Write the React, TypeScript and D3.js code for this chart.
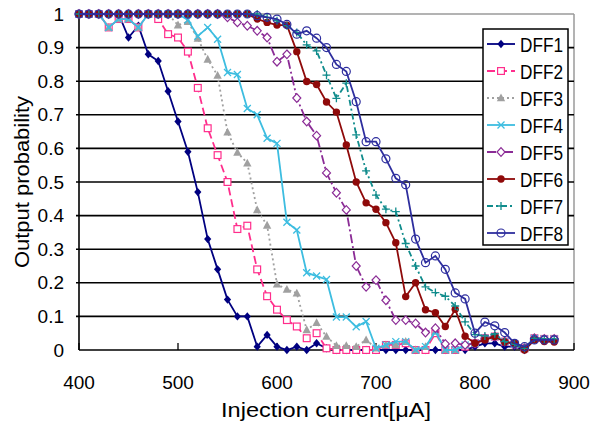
import React from 'react';
import * as d3 from 'd3';

const currents = [400,410,420,430,440,450,460,470,480,490,500,510,520,530,540,550,560,570,580,590,600,610,620,630,640,650,660,670,680,690,700,710,720,730,740,750,760,770,780,790,800,810,820,830,840,850,860,870,880];

const dff1 = [1,1,1,1,1,0.93,0.965,0.88,0.86,0.77,0.68,0.59,0.47,0.33,0.24,0.15,0.1,0.1,0.01,0.045,0.01,0,0.01,0,0.02,0.005,0,0,0,0,0,0,0,0,0,0,0,0,0,0,0.01,0.02,0.02,0.01,0.01,0,0.03,0.03,0.03];
const dff2 = [1,1,1,0.96,0.985,0.985,0.96,1,0.985,0.94,0.93,0.888,0.78,0.66,0.58,0.5,0.36,0.37,0.24,0.16,0.12,0.089,0.07,0.035,0.05,0.005,0,0,0,0,0,0.015,0.015,0.02,0,0,0.05,0,0,0.01,0.02,0.035,0.04,0.025,0.017,0.005,0.035,0.033,0.033];
const dff3 = [1,1,1,0.96,0.985,0.985,0.96,1,1,1,0.967,0.977,0.927,0.865,0.817,0.648,0.588,0.556,0.417,0.371,0.196,0.18,0.169,0.06,0.081,0.04,0.013,0.013,0.01,0.03,0.005,0.015,0.015,0.025,0,0.01,0.055,0,0,0.015,0.02,0.035,0.04,0.025,0.017,0.005,0.035,0.033,0.033];
const dff4 = [1,1,1,0.96,0.985,0.985,0.96,1,1,1,1,0.982,0.934,0.96,0.925,0.826,0.82,0.719,0.7,0.63,0.615,0.38,0.357,0.23,0.22,0.21,0.098,0.098,0.069,0.085,0.005,0.015,0.025,0.025,0,0.01,0.055,0,0,0.015,0.02,0.035,0.04,0.025,0.017,0.005,0.035,0.033,0.033];
const dff5 = [1,1,1,1,1,1,1,1,1,1,1,1,1,1,1,0.99,0.975,0.965,0.95,0.93,0.858,0.88,0.75,0.68,0.638,0.527,0.468,0.417,0.25,0.188,0.208,0.148,0.089,0.089,0.079,0.052,0.065,0.018,0.02,0.015,0.02,0.035,0.04,0.025,0.017,0.005,0.035,0.033,0.033];
const dff6 = [1,1,1,1,1,1,1,1,1,1,1,1,1,1,1,1,1,1,0.985,0.975,0.967,0.967,0.888,0.799,0.79,0.738,0.708,0.61,0.5,0.438,0.419,0.379,0.319,0.159,0.2,0.12,0.111,0.07,0.121,0.041,0.02,0.03,0.04,0.024,0.02,0,0.03,0.025,0.024];
const dff7 = [1,1,1,1,1,1,1,1,1,1,1,1,1,1,1,1,1,1,1,0.99,0.98,0.965,0.945,0.908,0.89,0.818,0.749,0.794,0.64,0.533,0.461,0.419,0.412,0.317,0.25,0.188,0.171,0.16,0.131,0.084,0.046,0.042,0.048,0.025,0.017,0.005,0.035,0.033,0.033];
const dff8 = [1,1,1,1,1,1,1,1,1,1,1,1,1,1,1,1,1,1,0.995,0.99,0.985,0.969,0.94,0.95,0.928,0.9,0.85,0.829,0.739,0.62,0.62,0.569,0.511,0.492,0.33,0.26,0.28,0.24,0.17,0.152,0.05,0.083,0.072,0.052,0.02,0.01,0.03,0.03,0.03];

const seriesNames = ['DFF1','DFF2','DFF3','DFF4','DFF5','DFF6','DFF7','DFF8'];
const seriesValues = [dff1, dff2, dff3, dff4, dff5, dff6, dff7, dff8];
const xTicks = [400,500,600,700,800,900];
const yTicks = [0,0.1,0.2,0.3,0.4,0.5,0.6,0.7,0.8,0.9,1];
const yTickLabels = ['0','0.1','0.2','0.3','0.4','0.5','0.6','0.7','0.8','0.9','1'];

const styles = [
  { color: '#000080', dash: 'none', marker: 'diamond' },
  { color: '#FF2E8C', dash: '8,4', marker: 'osquare' },
  { color: '#A0A0A0', dash: '2,3', marker: 'triangle' },
  { color: '#3DBDE0', dash: 'none', marker: 'x' },
  { color: '#8B2C96', dash: '9,3,2,3', marker: 'odiamond' },
  { color: '#8F0A0A', dash: 'none', marker: 'circle' },
  { color: '#108C8C', dash: '6,3,2,3', marker: 'plus' },
  { color: '#2E2E9E', dash: 'none', marker: 'ocircle' },
];

const x = d3.scaleLinear().domain([400, 900]).range([79, 574]);
const y = d3.scaleLinear().domain([0, 1]).range([350, 14]);

function Marker({ type, color, cx, cy }: { type: string; color: string; cx: number; cy: number }) {
  switch (type) {
    case 'diamond':
      return <path d={`M${cx},${cy - 4.2}L${cx + 3.6},${cy}L${cx},${cy + 4.2}L${cx - 3.6},${cy}Z`} fill={color} />;
    case 'osquare':
      return <rect x={cx - 3.4} y={cy - 3.4} width={6.8} height={6.8} fill="white" stroke={color} strokeWidth={1.2} />;
    case 'triangle':
      return <path d={`M${cx},${cy - 4.5}L${cx + 4.2},${cy + 3.3}L${cx - 4.2},${cy + 3.3}Z`} fill={color} />;
    case 'x':
      return <path d={`M${cx - 3.5},${cy - 3.5}L${cx + 3.5},${cy + 3.5}M${cx - 3.5},${cy + 3.5}L${cx + 3.5},${cy - 3.5}`} stroke={color} strokeWidth={1.3} />;
    case 'odiamond':
      return <path d={`M${cx},${cy - 4.3}L${cx + 4},${cy}L${cx},${cy + 4.3}L${cx - 4},${cy}Z`} fill="white" stroke={color} strokeWidth={1.2} />;
    case 'circle':
      return <circle cx={cx} cy={cy} r={3.7} fill={color} />;
    case 'plus':
      return <path d={`M${cx - 4},${cy}L${cx + 4},${cy}M${cx},${cy - 4}L${cx},${cy + 4}`} stroke={color} strokeWidth={1.3} />;
    case 'ocircle':
      return <circle cx={cx} cy={cy} r={4} fill="none" stroke={color} strokeWidth={1.2} />;
    default:
      return null;
  }
}

export default function App() {
  const line = d3.line<number>().x((_, i) => x(currents[i])).y((d) => y(d));
  const font = "'Liberation Sans', Arial, sans-serif";
  return (
    <svg width={603} height={423} style={{ position: 'absolute', left: 0, top: 0, background: 'white' }} fontFamily={font}>
      <rect x={0} y={0} width={603} height={423} fill="white" />
      {/* frame */}
      <line x1={x(400)} x2={x(900)} y1={y(1)} y2={y(1)} stroke="#9a9a9a" strokeWidth={1.5} />
      <line x1={x(900)} x2={x(900)} y1={y(1)} y2={y(0)} stroke="#9a9a9a" strokeWidth={1.5} />
      {yTicks.filter((t) => t > 0 && t < 1).map((t) => (
        <line key={t} x1={x(400) - 3} x2={x(900)} y1={y(t)} y2={y(t)} stroke="#000" strokeWidth={1.6} />
      ))}
      <line x1={x(400)} x2={x(400)} y1={y(1)} y2={y(0)} stroke="#000" strokeWidth={1.6} />
      <line x1={x(400)} x2={x(900)} y1={y(0)} y2={y(0)} stroke="#000" strokeWidth={1.6} />
      {xTicks.map((t) => (
        <line key={t} x1={x(t)} x2={x(t)} y1={y(0)} y2={y(0) - 7} stroke="#000" strokeWidth={1.3} />
      ))}
      {/* tick labels */}
      {yTicks.map((t, i) => (
        <text key={t} x={64} y={y(t) + 6.5} fontSize={19} textAnchor="end" fill="#000">{yTickLabels[i]}</text>
      ))}
      {xTicks.map((t) => (
        <text key={t} x={x(t)} y={389} fontSize={19} textAnchor="middle" fill="#000">{t}</text>
      ))}
      <text x={326} y={417} fontSize={21} textAnchor="middle" fill="#000" textLength={210} lengthAdjust="spacingAndGlyphs">Injection current[μA]</text>
      <text transform="translate(29,182) rotate(-90)" fontSize={21} textAnchor="middle" fill="#000" textLength={172} lengthAdjust="spacingAndGlyphs">Output probability</text>
      {/* series */}
      {seriesValues.map((vals, si) => (
        <g key={si}>
          <path d={line(vals) || ''} fill="none" stroke={styles[si].color} strokeWidth={1.8} strokeDasharray={styles[si].dash} />
          {vals.map((v, i) => (
            <Marker key={i} type={styles[si].marker} color={styles[si].color} cx={x(currents[i])} cy={y(v)} />
          ))}
        </g>
      ))}
      {/* legend */}
      <rect x={483} y={29} width={85} height={216} fill="white" stroke="#000" strokeWidth={1.5} />
      {seriesNames.map((name, i) => {
        const ly = 44 + i * 27;
        return (
          <g key={name}>
            <line x1={487} x2={515} y1={ly} y2={ly} stroke={styles[i].color} strokeWidth={1.8} strokeDasharray={styles[i].dash} />
            <Marker type={styles[i].marker} color={styles[i].color} cx={501} cy={ly} />
            <text x={520} y={ly + 7.5} fontSize={20} fill="#000" textLength={43} lengthAdjust="spacingAndGlyphs">{name}</text>
          </g>
        );
      })}
    </svg>
  );
}
